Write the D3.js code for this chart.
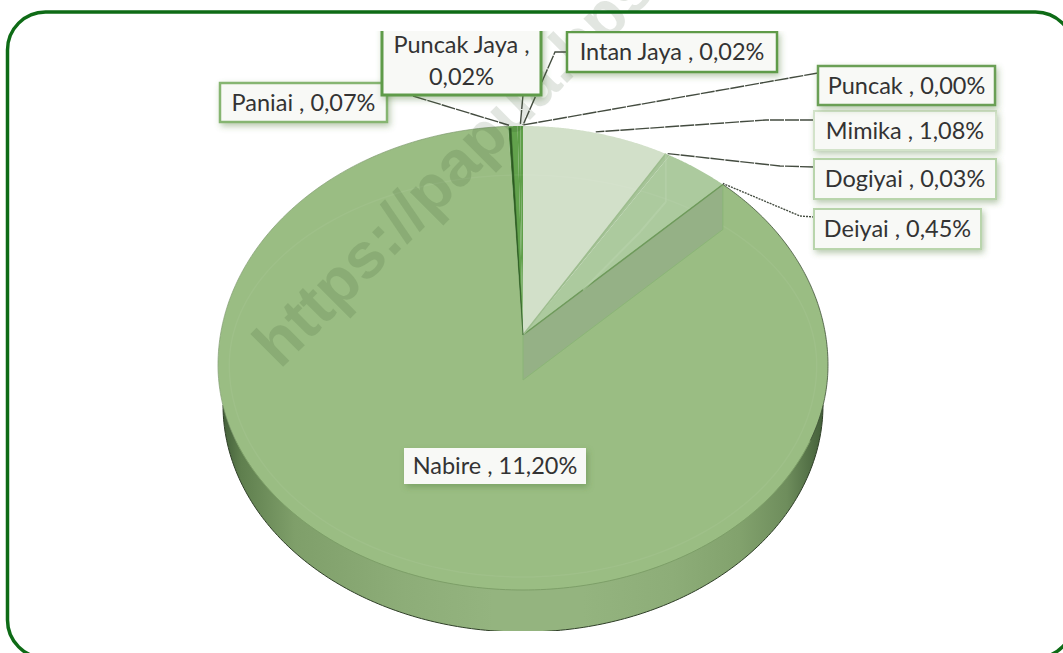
<!DOCTYPE html>
<html><head><meta charset="utf-8">
<script src="https://cdnjs.cloudflare.com/ajax/libs/d3/7.8.5/d3.min.js"></script>
<style>html,body{margin:0;padding:0;background:#fff;overflow:hidden}svg{display:block}text{font-family:Lato,"Open Sans",sans-serif}</style>
</head><body><svg id="c" width="1063" height="653"></svg>
<script>
const categories = ["Puncak","Mimika","Dogiyai","Deiyai","Nabire","Paniai","Puncak Jaya","Intan Jaya"];
const values = [0.00,1.08,0.03,0.45,11.20,0.07,0.02,0.02];
const valueLabels = ["0,00%","1,08%","0,03%","0,45%","11,20%","0,07%","0,02%","0,02%"];
const sliceColors = ["#d2e0c9","#d2e0c9","#a6c498","#acca9e","#9abd83","#62a24c","#5f9f49","#5f9f49"];

// layout of label boxes (not data)
const boxes = {
 "Puncak":{x:818,y:66,w:177,h:39,stroke:"#6a9f55",sw:2.5,elbow:[[818,73]],a:0},
 "Mimika":{x:814,y:111,w:182,h:39,stroke:"#d3e3ca",sw:2,elbow:[[814,120],[766,120]],a:.5},
 "Dogiyai":{x:814,y:159,w:182,h:40,stroke:"#b9d5ac",sw:2,elbow:[[814,167],[780,166]],a:.5},
 "Deiyai":{x:814,y:209,w:167,h:40,stroke:"#b9d5ac",sw:2,elbow:[[814,217],[800,216]],a:1},
 "Nabire":{x:404,y:448,w:182,h:36,stroke:"none",sw:0,elbow:null},
 "Paniai":{x:220,y:83,w:167,h:39,stroke:"#86b571",sw:2.5,elbow:[[413,96]],a:.1},
 "Puncak Jaya":{x:382,y:20,w:159,h:75,stroke:"#5f9b49",sw:3,elbow:[[523,95]],a:1,two:true},
 "Intan Jaya":{x:567,y:32,w:210,h:40,stroke:"#5f9b49",sw:2.5,elbow:[[566,52],[555,52]],a:1}
};

const svg = d3.select("#c");
const defs = svg.append("defs");
const sh = defs.append("filter").attr("id","sh").attr("x","-20%").attr("y","-30%").attr("width","140%").attr("height","170%");
sh.append("feDropShadow").attr("dx",2).attr("dy",3).attr("stdDeviation",3).attr("flood-color","#4d7a3a").attr("flood-opacity",.4);
defs.append("clipPath").attr("id","clipPlot").append("rect").attr("x",0).attr("y",31).attr("width",1063).attr("height",600);
const g = defs.append("linearGradient").attr("id","wall").attr("x1",0).attr("x2",1).attr("y1",0).attr("y2",0);
[[0,"#44603a"],[.03,"#5f7f4e"],[.12,"#7f9f6a"],[.3,"#8dad78"],[.45,"#94b47f"],[.6,"#94b47f"],[.75,"#8dad78"],[.86,"#82a26d"],[.94,"#6e8d5c"],[1,"#44603a"]]
  .forEach(s=>g.append("stop").attr("offset",s[0]).attr("stop-color",s[1]));

// projection of the tilted disc
const sx = d3.scaleLinear().domain([-1,1]).range([218,828]);
const sy = d3.scaleLinear().domain([-1,0,1]).range([126,365,590]);
const wx = d3.scaleLinear().domain([-1,1]).range([223,823]);
const wy = d3.scaleLinear().domain([0,1]).range([405,632]);
const apex = [sx(0),335], depth = 45, K = .91;
const warp = t => Math.atan2(Math.sin(t)*K, Math.cos(t));
const rim = t => { const w = warp(t); return [sx(Math.sin(w)), sy(-Math.cos(w))]; };
const line = d3.line();
const arcPts = (a,b) => d3.range(0,121).map(i=>rim(a+(b-a)*i/120));

const pie = d3.pie().sort(null).value(d=>d.v).startAngle(0).endAngle(2*Math.PI);
const arcs = pie(categories.map((c,i)=>({c,v:values[i],col:sliceColors[i],lab:valueLabels[i]})));
const byName = Object.fromEntries(arcs.map(a=>[a.data.c,a]));

const plot = svg.append("g").attr("clip-path","url(#clipPlot)");
// outer wall
const wallPts = d3.range(0,201).map(i=>{const t=Math.PI/2+Math.PI*i/200;return [wx(Math.sin(t)),wy(-Math.cos(t))];});
plot.append("path").attr("d",line(wallPts)+"Z").attr("fill","url(#wall)");
plot.append("path").attr("d",line(wallPts)).attr("fill","none").attr("stroke","#2f3f28").attr("stroke-width",1);
// top slices
plot.selectAll("path.slice").data(arcs.filter(d=>d.value>0)).join("path").attr("class","slice")
  .attr("d",d=>line([apex,...arcPts(d.startAngle,d.endAngle)])+"Z")
  .attr("fill",d=>d.data.col);
// rim outlines
const nab = byName["Nabire"];
plot.append("path").attr("d",line(arcPts(nab.startAngle,Math.PI*.6))).attr("fill","none").attr("stroke","#3c4f33").attr("stroke-width",.8);
plot.append("path").attr("d",line(arcPts(Math.PI*.6,Math.PI*1.4))).attr("fill","none").attr("stroke","#7d9f68").attr("stroke-width",1);
plot.append("path").attr("d",line(arcPts(Math.PI*1.4,nab.endAngle))).attr("fill","none").attr("stroke","#7f9b70").attr("stroke-width",.7);
// faint bevel
plot.append("path").attr("d",line(d3.range(0,201).map(i=>{const t=i/200*2*Math.PI;return [sx(Math.sin(t)*.963),Math.cos(t)>0?365-Math.cos(t)*190:365-Math.cos(t)*212];}))+"Z")
  .attr("fill","none").attr("stroke","#fff").attr("stroke-opacity",.05).attr("stroke-width",1.5);
// inner cut wall seen at the Deiyai / Nabire edge
const dei = rim(byName["Deiyai"].endAngle);
plot.append("path").attr("d",line([apex,dei,[dei[0],dei[1]+depth],[apex[0],apex[1]+depth]])+"Z")
  .attr("fill","#95b186").attr("stroke","#8bb577").attr("stroke-width",1);
plot.append("path").attr("d",line([apex,dei])).attr("stroke","#6f9a5c").attr("stroke-width",1.5).attr("fill","none");
// inner wall of Mimika end (faint)
const mim = rim(byName["Mimika"].endAngle);
plot.append("path").attr("d",line([apex,mim])).attr("stroke","#9dbd8e").attr("stroke-width",1.5).attr("fill","none");
plot.append("path").attr("d",line([mim,[mim[0],mim[1]+depth+3],[640,232],[apex[0]+60,apex[1]-45]])).attr("stroke","#b9d3ad").attr("stroke-width",2).attr("fill","none").attr("opacity",.5);
// dark seam
const nabEnd = rim(nab.endAngle);
plot.append("path").attr("d",line([apex,[nabEnd[0]+1,nabEnd[1]+2],[nabEnd[0]+3,nabEnd[1]+2]])+"Z").attr("fill","#2e5a24").attr("stroke","#2e5a24").attr("stroke-width",.5);

// watermark
svg.append("text").attr("transform","translate(280,370) rotate(-45)")
  .style("font-family","'Liberation Sans',Arial,sans-serif")
  .attr("font-weight",700).attr("font-size",64).attr("fill","#1e3a14").attr("fill-opacity",.13)
  .text("https://papua.bps");

// leaders
const leaders = svg.append("g").attr("clip-path","url(#clipPlot)");
arcs.forEach(d=>{
  const b = boxes[d.data.c]; if(!b.elbow) return;
  const t = d.startAngle+(d.endAngle-d.startAngle)*b.a;
  const p = rim(t);
  leaders.append("path").attr("d",line([...b.elbow,[p[0],p[1]-1]])).attr("fill","none")
    .attr("stroke","#444c40").attr("stroke-width",1.4).attr("stroke-dasharray",d.data.c==="Deiyai"?"2 1":"14 1");
});

// labels
const labels = svg.append("g").attr("clip-path","url(#clipPlot)");
["Deiyai","Dogiyai","Mimika","Puncak","Intan Jaya","Paniai","Puncak Jaya","Nabire"].forEach(name=>{
  const d = byName[name], b = boxes[name];
  const gg = labels.append("g");
  gg.append("rect").attr("x",b.x).attr("y",b.y).attr("width",b.w).attr("height",b.h)
    .attr("fill","#f8f9f6").attr("stroke",b.stroke).attr("stroke-width",b.sw).attr("filter","url(#sh)");
  const tx = gg.append("text").attr("fill","#333").attr("font-size",23.5).attr("text-anchor","middle").attr("x",b.x+b.w/2);
  if(b.two){
    tx.attr("y",b.y+b.h-42).text(name+" ,");
    gg.append("text").attr("fill","#333").attr("font-size",23.5).attr("text-anchor","middle").attr("x",b.x+b.w/2).attr("y",b.y+b.h-10).text(d.data.lab);
  } else {
    tx.attr("y",b.y+b.h/2+8).text(name+" , "+d.data.lab);
  }
});

// frame
svg.append("rect").attr("x",7.5).attr("y",12).attr("width",1066).attr("height",646).attr("rx",38).attr("ry",38)
  .attr("fill","none").attr("stroke","#0e6b16").attr("stroke-width",3.5);
</script></body></html>
